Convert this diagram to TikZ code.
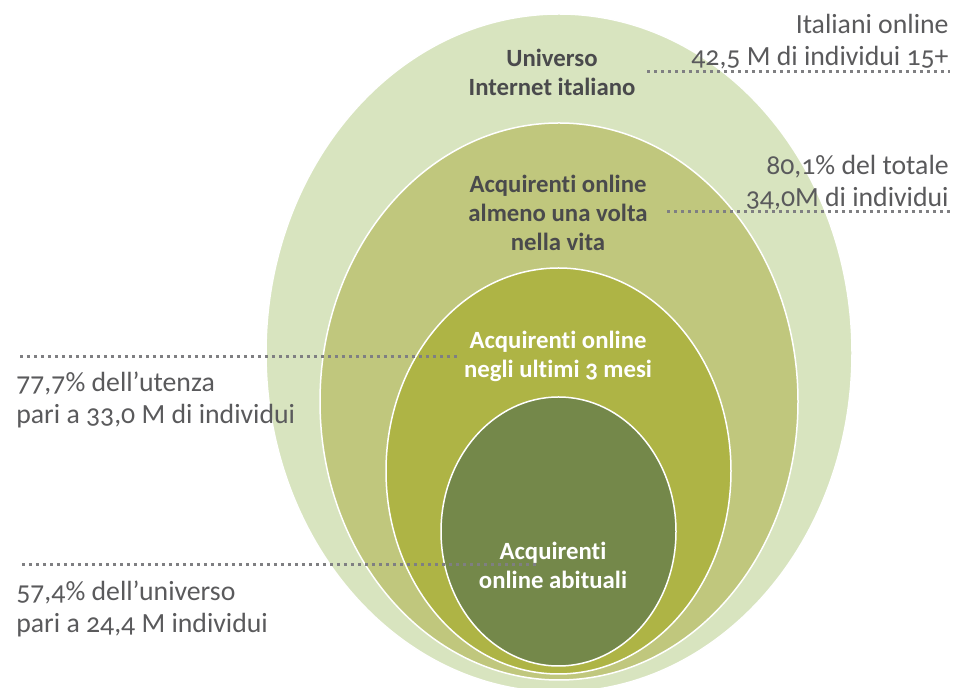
\documentclass[tikz,border=0pt]{standalone}
\usepackage{fontspec}
\setmainfont{Carlito}[Numbers=OldStyle, Ligatures=NoCommon]
\usetikzlibrary{positioning}
\definecolor{universo}{HTML}{D8E4BF}
\definecolor{almeno}{HTML}{C0C77D}
\definecolor{trimestre}{HTML}{AEB445}
\definecolor{abituali}{HTML}{74884A}
\definecolor{testo}{HTML}{5A5A5C}
\definecolor{scuro}{HTML}{4A4A4C}
\definecolor{puntinato}{HTML}{7F7F82}

\begin{document}
\begin{tikzpicture}[x=0.02cm, y=-0.02cm,
		every node/.style={inner sep=0pt},
		etichetta/.style={font=\fontsize{15.8}{18.2}\selectfont, text=testo},
		insieme/.style={font=\bfseries\fontsize{14.1}{16.5}\selectfont, align=center},
		bordo/.style={draw=white, line width=0.03cm},
		puntini/.style={draw=puntinato, line width=0.06cm, dash pattern=on 0.06cm off 0.08cm}]
	\useasboundingbox (0,0) rectangle (964,688);
	\begin{scope}
		\clip (0,0) rectangle (964,688);
		% insiemi annidati
		\filldraw[bordo, fill=universo] (559,353) ellipse [x radius=293, y radius=339];
		\filldraw[bordo, fill=almeno] (559,401.5) ellipse [x radius=239, y radius=278.5];
		\filldraw[bordo, fill=trimestre] (558.5,471) ellipse [x radius=172.5, y radius=203];
		\filldraw[bordo, fill=abituali] (558.5,531.5) ellipse [x radius=117.5, y radius=134.5];
	\end{scope}
	
	\node[insieme, text=scuro] (universo) at (552,72) {Universo\\Internet italiano};
	\node[insieme, text=scuro] (almeno) at (558,213) {Acquirenti online\\almeno una volta\\nella vita};
	\node[insieme, text=white] (trimestre) at (558,356) {Acquirenti online\\negli ultimi 3 mesi};
	\node[insieme, text=white] (abituali) at (553,565) {Acquirenti\\online abituali};
	
	\node[etichetta, align=right, anchor=north east] (italiani) at (949,14) {Italiani online\\42,5 M di individui 15+};
	\node[etichetta, align=right, anchor=north east] (totale) at (949,155) {80,1\% del totale\\34,0M di individui};
	\node[etichetta, align=left, anchor=north west] (utenza) at (16,372) {77,7\% dell’utenza\\pari a 33,0 M di individui};
	\node[etichetta, align=left, anchor=north west] (abitualiquota) at (16,581) {57,4\% dell’universo\\pari a 24,4 M individui};
	
	% linee di richiamo
	\coordinate (r1a) at (647,72);
	\coordinate (r1b) at (950,72);
	\coordinate (r2a) at (667,212);
	\coordinate (r2b) at (950,212);
	\coordinate (r3a) at (20,357);
	\coordinate (r3b) at (460,357);
	\coordinate (r4a) at (22,565);
	\coordinate (r4b) at (537,565);
	\draw[puntini] (r1a) -- (r1b);
	\draw[puntini] (r2a) -- (r2b);
	\draw[puntini] (r3a) -- (r3b);
	\draw[puntini] (r4a) -- (r4b);
\end{tikzpicture}
\end{document}
